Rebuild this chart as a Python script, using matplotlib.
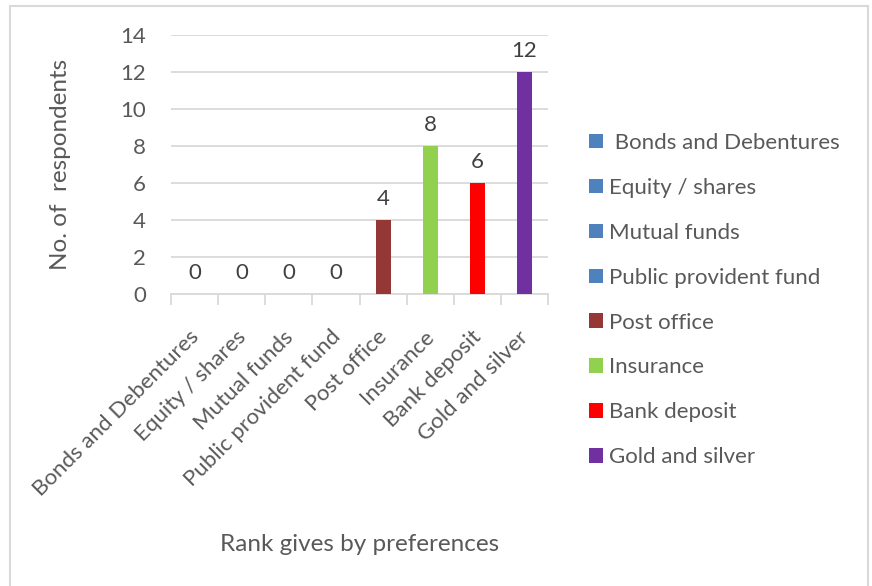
import matplotlib
matplotlib.use("Agg")
import matplotlib.pyplot as plt
import matplotlib.transforms as mtransforms
from matplotlib.patches import Rectangle

# survey counts per investment avenue
categories = ["Bonds and Debentures", "Equity / shares", "Mutual funds",
              "Public provident fund", "Post office", "Insurance",
              "Bank deposit", "Gold and silver"]
respondents = [0, 0, 0, 0, 4, 8, 6, 12]
legend_names = [" Bonds and Debentures", "Equity / shares", "Mutual funds",
                "Public provident fund", "Post office", "Insurance",
                "Bank deposit", "Gold and silver"]
bar_colors = ["#4F81BD", "#4F81BD", "#4F81BD", "#4F81BD",
              "#953735", "#92D050", "#FF0000", "#7030A0"]

TEXT = "#595959"
GRID = "#D9D9D9"

plt.rcParams['font.family'] = ['Lato', 'DejaVu Sans']

W, H = 872, 586
fig = plt.figure(figsize=(W / 100, H / 100), dpi=100)
ax = fig.add_axes([171 / W, 1 - 294 / H, 377 / W, 259 / H])

for i, (v, c, name) in enumerate(zip(respondents, bar_colors, legend_names)):
    bars = ax.bar(i, v, width=0.32, color=c, label=name, zorder=3)
    ax.bar_label(bars, padding=8, fontsize=16, color="#404040")

ax.set_xlim(-0.5, len(categories) - 0.5)
ax.set_ylim(0, 14)
ax.set_yticks(range(0, 15, 2))
ax.yaxis.grid(True, color=GRID, linewidth=1.3, zorder=0)
ax.tick_params(axis='y', length=0, pad=18, labelsize=16, labelcolor=TEXT)

# category labels centred, tick marks on the boundaries
ax.set_xticks(range(len(categories)))
ax.set_xticklabels(categories, rotation=45, ha='right', rotation_mode='anchor')
ax.set_xticks([i - 0.5 for i in range(len(categories) + 1)], minor=True)
ax.tick_params(axis='x', which='major', length=0, pad=28, labelsize=16,
               labelcolor=TEXT)
ax.tick_params(axis='x', which='minor', length=8, width=1.3, color=GRID)
# nudge the slanted labels up-left a little
shift = mtransforms.ScaledTranslation(-6 / 100, 6 / 100, fig.dpi_scale_trans)
for lbl in ax.get_xticklabels():
    lbl.set_transform(lbl.get_transform() + shift)

for s in ["left", "right", "top"]:
    ax.spines[s].set_visible(False)
ax.spines["bottom"].set_color(GRID)
ax.spines["bottom"].set_linewidth(1.3)

ax.set_ylabel("No. of  respondents", fontsize=17.5, color=TEXT)
ax.yaxis.set_label_coords(-0.292, 0.5)
ax.yaxis.label.set_va('center')
ax.set_xlabel("Rank gives by preferences", fontsize=17.5, color=TEXT)
ax.xaxis.set_label_coords(0.5, -0.968)
ax.xaxis.label.set_va('center')

leg = ax.legend(loc='upper left', bbox_to_anchor=(589 / W, 1 - 133 / H),
                bbox_transform=fig.transFigure, frameon=False, fontsize=16,
                borderpad=0, borderaxespad=0, handlelength=0.63,
                handleheight=0.63, handletextpad=0.27, labelspacing=1.12)
for t in leg.get_texts():
    t.set_color(TEXT)

# chart area border
fig.add_artist(Rectangle((9.5 / W, -0.05), (867.5 - 9.5) / W, 1.05 - 6.5 / H,
                         transform=fig.transFigure, fill=False,
                         edgecolor=GRID, linewidth=1.5))

fig.savefig("out.png", dpi=100)
